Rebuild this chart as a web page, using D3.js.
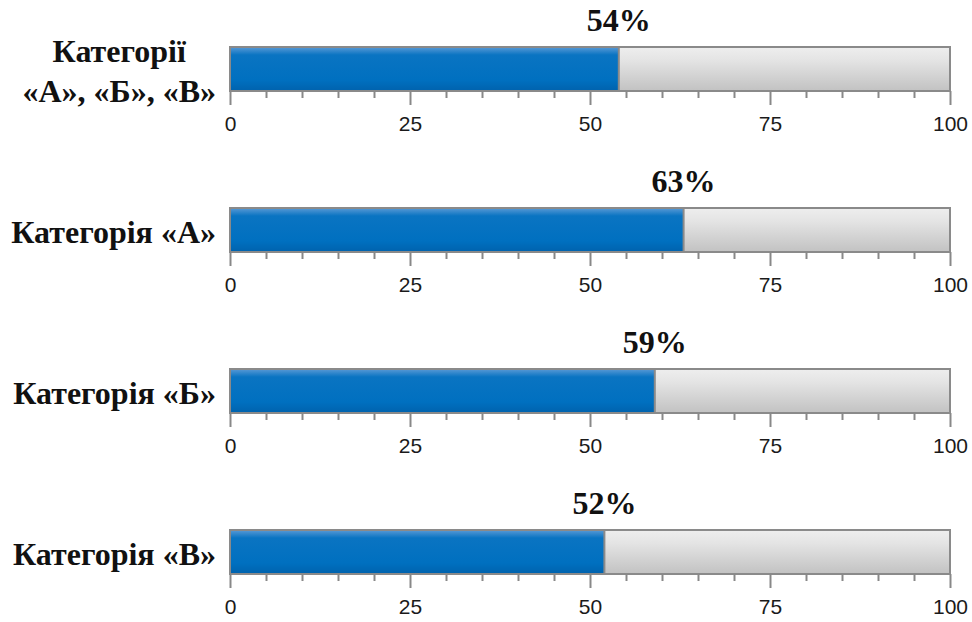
<!DOCTYPE html>
<html>
<head>
<meta charset="utf-8">
<script src="https://cdn.jsdelivr.net/npm/d3@7"></script>
<style>
  body { margin: 0; background: #fff; }
  .cat { font-family: "Liberation Serif", "Times New Roman", serif; font-weight: bold; font-size: 32px; fill: #111; }
  .val { font-family: "Liberation Serif", "Times New Roman", serif; font-weight: bold; font-size: 32px; fill: #111; }
  .tick text { font-family: "Liberation Sans", Arial, sans-serif; font-size: 21px; fill: #1a1a1a; }
  .tick line { stroke: #888; stroke-width: 2; }
</style>
</head>
<body>
<div id="plot"></div>
<script>
// data
var categories = ["Категорії «А», «Б», «В»", "Категорія «А»", "Категорія «Б»", "Категорія «В»"];
var labelLines = [["Категорії", "«А», «Б», «В»"], ["Категорія «А»"], ["Категорія «Б»"], ["Категорія «В»"]];
var values = [54, 63, 59, 52];
var majorTicks = [0, 25, 50, 75, 100];
var minorTicks = [5, 10, 15, 20, 30, 35, 40, 45, 55, 60, 65, 70, 80, 85, 90, 95];

var width = 972, height = 622;
var barH = 44;

var svg = d3.select("div#plot")
  .append("svg")
    .attr("width", width)
    .attr("height", height);

var defs = svg.append("defs");
var gBlue = defs.append("linearGradient").attr("id", "blue").attr("x1", 0).attr("x2", 0).attr("y1", 0).attr("y2", 1);
gBlue.append("stop").attr("offset", "0%").attr("stop-color", "#5a9ad6");
gBlue.append("stop").attr("offset", "18%").attr("stop-color", "#0a74c2");
gBlue.append("stop").attr("offset", "75%").attr("stop-color", "#0070c0");
gBlue.append("stop").attr("offset", "100%").attr("stop-color", "#0062ad");
var gGray = defs.append("linearGradient").attr("id", "gray").attr("x1", 0).attr("x2", 0).attr("y1", 0).attr("y2", 1);
gGray.append("stop").attr("offset", "0%").attr("stop-color", "#eeeeee");
gGray.append("stop").attr("offset", "30%").attr("stop-color", "#e4e4e4");
gGray.append("stop").attr("offset", "100%").attr("stop-color", "#c2c2c2");

var x = d3.scaleLinear().domain([0, 100]).range([230, 950]);
var y = d3.scalePoint().domain(categories).range([47, 530]);

categories.forEach(function(c, i) {
  var top = y(c);
  var g = svg.append("g");

  // background bar (0..100)
  g.append("rect")
    .attr("x", x(0)).attr("y", top)
    .attr("width", x(100) - x(0)).attr("height", barH)
    .attr("fill", "url(#gray)")
    .attr("stroke", "#8a8a8a").attr("stroke-width", 2);

  // value bar
  g.append("rect")
    .attr("x", x(0)).attr("y", top)
    .attr("width", x(values[i]) - x(0)).attr("height", barH)
    .attr("fill", "url(#blue)")
    .attr("stroke", "#8a8a8a").attr("stroke-width", 2);

  // minor ticks
  g.append("g")
    .attr("transform", "translate(0," + (top + barH) + ")")
    .call(d3.axisBottom(x).tickValues(minorTicks).tickSize(7).tickFormat(""))
    .call(function(a) { a.select(".domain").remove(); });

  // major ticks with labels
  g.append("g")
    .attr("transform", "translate(0," + (top + barH) + ")")
    .call(d3.axisBottom(x).tickValues(majorTicks).tickSize(14).tickPadding(11).tickFormat(d3.format("d")))
    .call(function(a) { a.select(".domain").remove(); });

  // value label
  g.append("text")
    .attr("class", "val")
    .attr("x", x(values[i]))
    .attr("y", top - 16)
    .attr("text-anchor", "middle")
    .text(values[i] + "%");

  // category label, centred block with right edge near the axis
  var lines = labelLines[i];
  var mid = top + barH / 2;
  var t = g.append("text")
    .attr("class", "cat")
    .attr("text-anchor", "middle");
  lines.forEach(function(s, k) {
    t.append("tspan")
      .attr("x", 0)
      .attr("y", mid + 13 - (lines.length - 1) * 20 + k * 40)
      .text(s);
  });
  var w = d3.max(t.selectAll("tspan").nodes(), function(n) { return n.getComputedTextLength(); });
  t.selectAll("tspan").attr("x", 216 - w / 2);
});
</script>
</body>
</html>
